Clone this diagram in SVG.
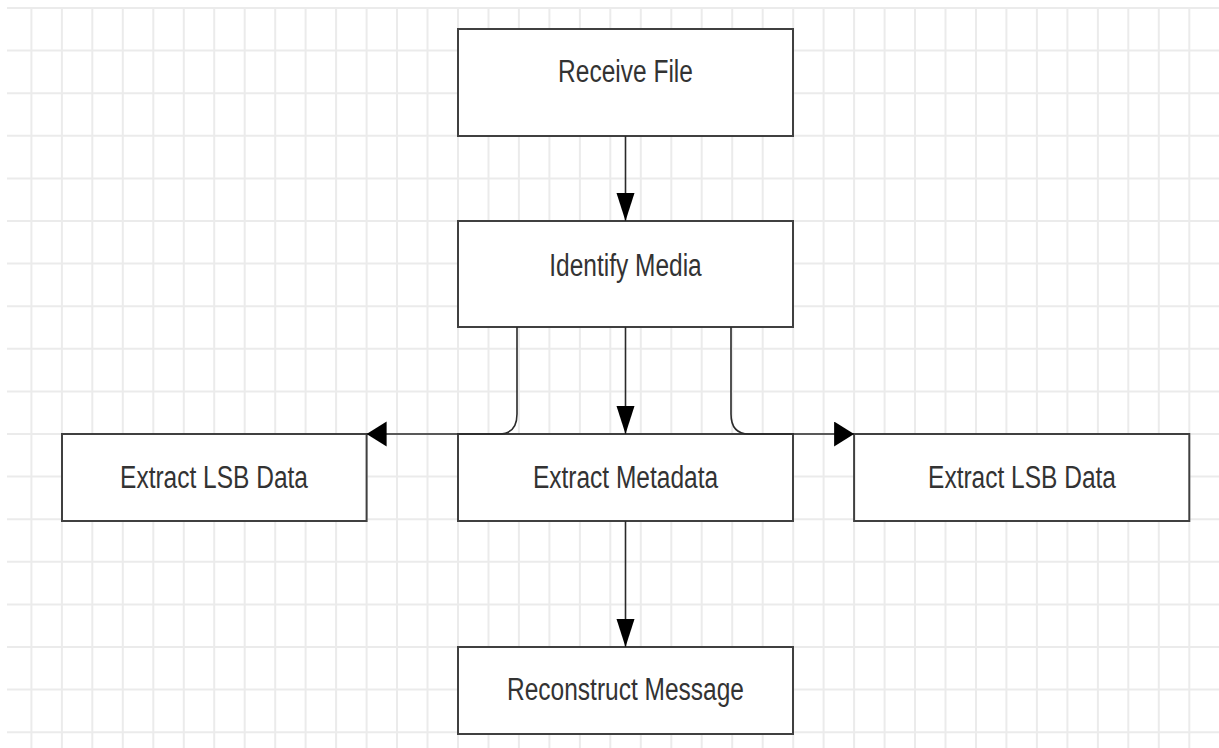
<svg xmlns="http://www.w3.org/2000/svg" width="1219" height="748" viewBox="0 0 1219 748">
<style>
.grid{stroke:#ebebeb;stroke-width:2;fill:none}
.box{fill:#fff;stroke:#404040;stroke-width:2}
.lbl{font-family:"Liberation Sans",Arial,sans-serif;font-size:24.5px;fill:#333;text-anchor:middle}
.edge{fill:none;stroke:#2a2a2a;stroke-width:1.6}
</style>
<defs>
<marker id="arrV" markerUnits="userSpaceOnUse" markerWidth="30" markerHeight="20" refX="28" refY="9" orient="auto" viewBox="0 0 30 20">
<polygon points="0,0 28,9 0,18" fill="#000"/>
</marker>
<marker id="arrH" markerUnits="userSpaceOnUse" markerWidth="22" markerHeight="26" refX="20" refY="12.5" orient="auto" viewBox="0 0 22 26">
<polygon points="0,0 20,12.5 0,25" fill="#000"/>
</marker>
</defs>
<rect width="1219" height="748" fill="#fff"/>
<g id="grid">
<path class="grid" d="M31.4 7V748M61.9 7V748M92.3 7V748M122.8 7V748M153.3 7V748M183.8 7V748M214.2 7V748M244.7 7V748M275.2 7V748M305.6 7V748M336.1 7V748M366.6 7V748M397 7V748M427.5 7V748M458 7V748M488.5 7V748M518.9 7V748M549.4 7V748M579.9 7V748M610.3 7V748M640.8 7V748M671.3 7V748M701.7 7V748M732.2 7V748M762.7 7V748M793.2 7V748M823.6 7V748M854.1 7V748M884.6 7V748M915 7V748M945.5 7V748M976 7V748M1006.4 7V748M1036.9 7V748M1067.4 7V748M1097.9 7V748M1128.3 7V748M1158.8 7V748M1189.3 7V748"/>
<path class="grid" d="M7 8H1219M7 50.6H1219M7 93.2H1219M7 135.8H1219M7 178.4H1219M7 221H1219M7 263.6H1219M7 306.2H1219M7 348.8H1219M7 391.4H1219M7 434H1219M7 476.6H1219M7 519.2H1219M7 561.8H1219M7 604.4H1219M7 647H1219M7 689.6H1219M7 732.2H1219"/>
</g>
<g id="n-receive">
<rect class="box" x="458" y="29" width="335" height="107"/>
<text class="lbl" transform="translate(625.5 82) scale(1 1.3)">Receive File</text>
</g>
<g id="n-identify">
<rect class="box" x="458" y="221" width="335" height="106"/>
<text class="lbl" transform="translate(625.5 275.5) scale(1 1.3)">Identify Media</text>
</g>
<g id="n-lsb-left">
<rect class="box" x="62" y="434" width="304.6" height="87"/>
<text class="lbl" transform="translate(214 487.5) scale(1 1.3)">Extract LSB Data</text>
</g>
<g id="n-metadata">
<rect class="box" x="458" y="434" width="335" height="87"/>
<text class="lbl" transform="translate(625.5 487.5) scale(1 1.3)">Extract Metadata</text>
</g>
<g id="n-lsb-right">
<rect class="box" x="854.1" y="434" width="335.2" height="87"/>
<text class="lbl" transform="translate(1022 487.5) scale(1 1.3)">Extract LSB Data</text>
</g>
<g id="n-reconstruct">
<rect class="box" x="458" y="647" width="335" height="87"/>
<text class="lbl" transform="translate(625.5 700) scale(1 1.3)">Reconstruct Message</text>
</g>
<g id="connectors">
<path class="edge" d="M625.5 136V221" marker-end="url(#arrV)"/>
<path class="edge" d="M625.5 327V434" marker-end="url(#arrV)"/>
<path class="edge" d="M517 327V414Q517 434 499 434H366.6" marker-end="url(#arrH)"/>
<path class="edge" d="M731 327V414Q731 434 749 434H854.1" marker-end="url(#arrH)"/>
<path class="edge" d="M625.5 521V647" marker-end="url(#arrV)"/>
</g>
</svg>
